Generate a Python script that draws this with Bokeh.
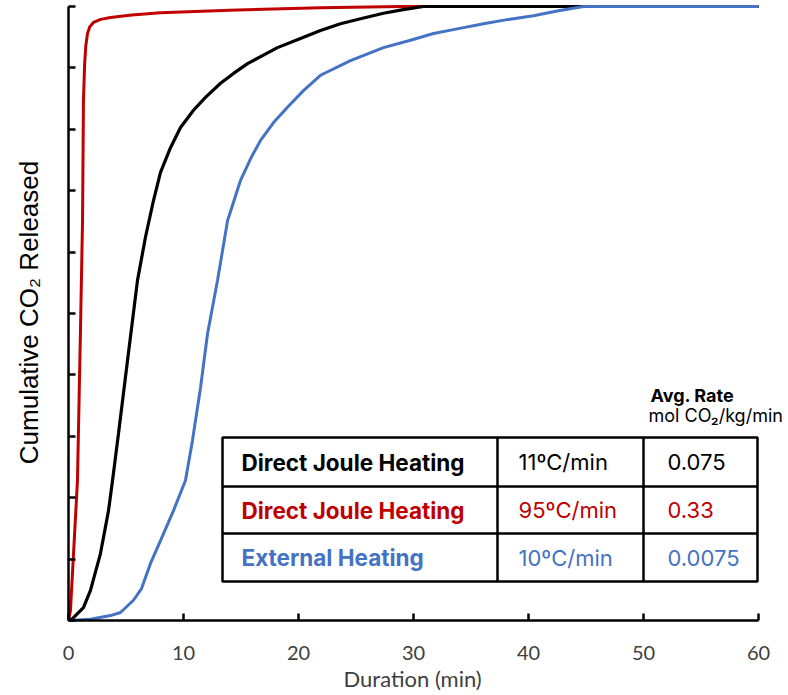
from bokeh.plotting import figure
from bokeh.models import Range1d, FixedTicker, CustomJSTickFormatter, Label, Title
from bokeh.core.properties import value
from bokeh.embed import file_html
from bokeh.resources import INLINE

# ---------------- data ----------------
x_ticks = [0, 10, 20, 30, 40, 50, 60]
y_ticks = [0.0, 0.1, 0.2, 0.3, 0.4, 0.5, 0.6, 0.7, 0.8, 0.9, 1.0]

red_t = [0, 0.17, 0.78, 1.04, 1.22, 1.30, 1.40, 1.50, 1.65, 1.85, 2.17, 2.8, 3.65, 5.5, 8.0, 14.0, 21.9, 28.9, 60]
red_y = [0, 0.016, 0.228, 0.472, 0.651, 0.847, 0.905, 0.935, 0.956, 0.967, 0.974, 0.979, 0.982, 0.986,
         0.990, 0.994, 0.998, 1.0, 1.0]

black_t = [0, 0.35, 1.30, 1.91, 2.78, 3.48, 3.83, 4.35, 5.13, 6.00, 6.70, 7.39, 8.0, 8.87, 9.74,
           10.87, 11.91, 13.22, 14.35, 15.57, 16.87, 18.17, 20.17, 21.91, 23.65, 25.39, 27.39, 29.1, 30.87, 60]
black_y = [0, 0.003, 0.021, 0.049, 0.109, 0.179, 0.228, 0.305, 0.423, 0.554, 0.625, 0.684, 0.730, 0.770, 0.803,
           0.831, 0.852, 0.875, 0.891, 0.907, 0.920, 0.933, 0.948, 0.961, 0.972, 0.980, 0.989, 0.995, 1.0, 1.0]

blue_t = [0, 1.9, 3.65, 4.52, 5.65, 6.35, 7.13, 8.0, 9.13, 10.17, 10.78, 11.48, 12.09, 12.96, 13.83,
          14.96, 15.83, 16.70, 17.83, 19.04, 20.43, 21.91, 24.52, 27.39, 29.74, 31.74, 33.91, 36.09,
          38.26, 40.43, 42.6, 44.78, 60]
blue_y = [0, 0.002, 0.008, 0.013, 0.033, 0.052, 0.093, 0.130, 0.179, 0.228, 0.293, 0.379, 0.467, 0.554, 0.651,
          0.717, 0.752, 0.782, 0.811, 0.836, 0.863, 0.888, 0.912, 0.933, 0.945, 0.956, 0.964, 0.972,
          0.979, 0.985, 0.993, 1.0, 1.0]

row_names = ["Direct Joule Heating", "Direct Joule Heating", "External Heating"]
row_rates = ["11ºC/min", "95ºC/min", "10ºC/min"]
row_avg = ["0.075", "0.33", "0.0075"]

# ---------------- styles ----------------
RED = "#C00000"
BLUE = "#4472C4"
BLACK = "#000000"
row_colors = [BLACK, RED, BLUE]

# ---------------- figure ----------------
# frame spans x 68..788 px; x = 0..60 occupies 68..758 px (11.5 px per minute)
PX_PER_MIN = 690 / 60
X_END = 60 + 30 / PX_PER_MIN
Y_END = 616 / 614
p = figure(width=788, height=695, output_backend="svg", toolbar_location=None,
           x_range=Range1d(0, X_END), y_range=Range1d(0, Y_END),
           min_border_left=68, min_border_right=0, min_border_top=4, min_border_bottom=75)
p.outline_line_color = None
p.xgrid.visible = False
p.ygrid.visible = False
p.background_fill_color = "white"
p.border_fill_color = "white"

# layout helpers: reference pixels -> data units (y=0 at 620 px, y=1 at 6 px)
def dx(px):
    return (px - 68) / PX_PER_MIN

def dy(py):
    return (620 - py) / 614

# curves
p.line(red_t, red_y, line_color=RED, line_width=3)
p.line(black_t, black_y, line_color=BLACK, line_width=3.2)
p.line(blue_t, blue_y, line_color=BLUE, line_width=3)

# axes
xa = p.xaxis[0]
xa.bounds = (0, 60)
xa.ticker = FixedTicker(ticks=x_ticks, minor_ticks=[])
xa.major_tick_in = 7
xa.major_tick_out = 0
xa.minor_tick_line_color = None
xa.axis_line_width = 2.5
xa.major_tick_line_width = 2.5
xa.axis_line_color = "black"
xa.major_tick_line_color = "black"
xa.major_label_text_font = "Lato"
xa.major_label_text_font_size = "20px"
xa.major_label_text_color = "#404040"
xa.major_label_standoff = 25

# x-axis title, placed under the 0..60 span (left-aligned with an offset from the frame's left edge)
p.add_layout(Title(text="Duration (min)", align="left", offset=275, standoff=1,
                   text_font="Lato", text_font_size="22px", text_font_style="normal",
                   text_color="#404040"), "below")

ya = p.yaxis[0]
ya.bounds = (0, 1)
ya.ticker = FixedTicker(ticks=y_ticks, minor_ticks=[])
ya.formatter = CustomJSTickFormatter(code="return ''")
ya.major_tick_in = 7
ya.major_tick_out = 0
ya.minor_tick_line_color = None
ya.axis_line_width = 2.5
ya.major_tick_line_width = 2.5
ya.axis_line_color = "black"
ya.major_tick_line_color = "black"
ya.major_label_standoff = 0
ya.axis_label = "Cumulative CO₂ Released"
ya.axis_label_text_font = "Liberation Sans"
ya.axis_label_text_font_size = "26px"
ya.axis_label_text_font_style = "normal"
ya.axis_label_text_color = "black"
ya.axis_label_standoff = 25

# ---------------- table (layout in reference pixels) ----------------
T_LEFT, T_C1, T_C2, T_RIGHT = 222, 497, 643, 757
T_TOP, T_R1, T_R2, T_BOT = 437, 486, 533, 581

p.quad(left=[dx(T_LEFT)], right=[dx(T_RIGHT)], top=[dy(T_TOP)], bottom=[dy(T_BOT)],
       fill_color="white", line_color="black", line_width=2.5)
p.segment(x0=[dx(T_LEFT), dx(T_LEFT), dx(T_C1), dx(T_C2)],
          y0=[dy(T_R1), dy(T_R2), dy(T_TOP), dy(T_TOP)],
          x1=[dx(T_RIGHT), dx(T_RIGHT), dx(T_C1), dx(T_C2)],
          y1=[dy(T_R1), dy(T_R2), dy(T_BOT), dy(T_BOT)],
          line_color="black", line_width=2.5)

row_bounds = [T_TOP, T_R1, T_R2, T_BOT]
row_mid = [dy((row_bounds[i] + row_bounds[i + 1]) / 2) for i in range(3)]

p.text(x=[dx(T_LEFT)] * 3, y=row_mid, text=row_names, text_color=row_colors,
       text_font=value("Inter"), text_font_style="bold", text_font_size="22.5px",
       text_align="left", text_baseline="middle", x_offset=19)
p.text(x=[dx(T_C1)] * 3, y=row_mid, text=row_rates, text_color=row_colors,
       text_font=value("Inter"), text_font_size="22px",
       text_align="left", text_baseline="middle", x_offset=21)
p.text(x=[dx(T_C2)] * 3, y=row_mid, text=row_avg, text_color=row_colors,
       text_font=value("Inter"), text_font_size="22px",
       text_align="left", text_baseline="middle", x_offset=24)

p.add_layout(Label(x=dx(T_C2), y=dy(395), x_offset=7, text="Avg. Rate",
                   text_font="Inter", text_font_style="bold", text_font_size="18px",
                   text_baseline="middle", text_align="left", text_color="black"))
p.add_layout(Label(x=dx(T_C2), y=dy(415), x_offset=5, text="mol CO₂/kg/min",
                   text_font="Inter", text_font_size="18px",
                   text_baseline="middle", text_align="left", text_color="black"))

open("out.html", "w").write(file_html(p, INLINE))
